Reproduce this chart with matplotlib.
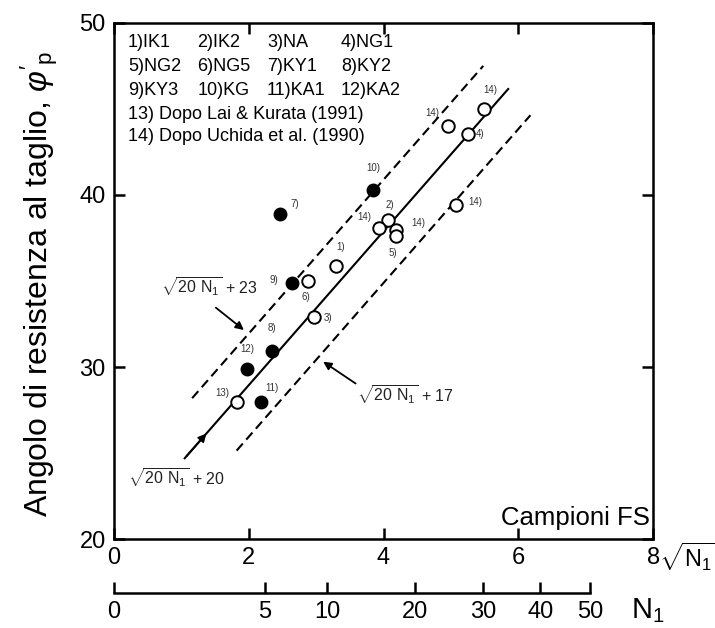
import numpy as np
import matplotlib
matplotlib.use('Agg')
import matplotlib.pyplot as plt

plt.rcParams['font.family'] = ['Liberation Sans', 'DejaVu Sans']
plt.rcParams['mathtext.fontset'] = 'custom'
plt.rcParams['mathtext.rm'] = 'Liberation Sans'
plt.rcParams['mathtext.it'] = 'Liberation Sans:italic'

# data: x = sqrt(N1), y = phi'_p
pt_x = [3.85, 2.46, 2.64, 2.88, 3.30, 2.97, 2.34, 4.07, 3.94, 4.19, 4.19,
        4.96, 5.49, 5.26, 5.07, 1.97, 1.83, 2.18]
pt_y = [40.3, 38.9, 34.9, 35.0, 35.9, 32.9, 30.95, 38.55, 38.1, 37.95, 37.6,
        44.0, 45.0, 43.55, 39.4, 29.9, 27.95, 27.95]
pt_filled = [1, 1, 1, 0, 0, 0, 1, 0, 0, 0, 0, 0, 0, 0, 0, 1, 0, 1]
pt_label = ['10)', '7)', '9)', '6)', '1)', '3)', '8)', '2)', '14)', '14)', '5)',
            '14)', '14)', '4)', '14)', '12)', '13)', '11)']
lab_x = [3.85, 2.69, 2.38, 2.85, 3.37, 3.17, 2.35, 4.09, 3.72, 4.52, 4.14,
         4.72, 5.59, 5.44, 5.36, 1.98, 1.61, 2.35]
lab_y = [41.55, 39.5, 35.06, 34.09, 37.0, 32.87, 32.25, 39.42, 38.7, 38.35, 36.6,
         44.75, 46.1, 43.55, 39.6, 31.05, 28.47, 28.76]

# fit lines: phi = sqrt(20 N1) + c
line_c = [20, 23, 17]
line_x0 = [1.05, 1.16, 1.82]
line_x1 = [5.85, 5.48, 6.18]

n1_ticks = [0, 5, 10, 20, 30, 40, 50]

legend_rows = [['1)IK1', '2)IK2', '3)NA', '4)NG1'],
               ['5)NG2', '6)NG5', '7)KY1', '8)KY2'],
               ['9)KY3', '10)KG', '11)KA1', '12)KA2']]
legend_cols = [0.21, 1.24, 2.27, 3.37]

fig = plt.figure(figsize=(7.15, 6.28), dpi=100)
ax = fig.add_axes([0.1594, 0.1417, 0.754, 0.8217])

for c, a, b in zip(line_c, line_x0, line_x1):
    xx = np.array([a, b])
    yy = np.sqrt(20) * xx + c
    if c == 20:
        ax.plot(xx, yy, color='black', lw=1.5)
    else:
        ax.plot(xx, yy, color='black', lw=1.5, linestyle=(0, (4.5, 2.5)))

for x, y, f in zip(pt_x, pt_y, pt_filled):
    if f:
        ax.plot(x, y, 'o', color='black', ms=9, zorder=3)
    else:
        ax.plot(x, y, 'o', mfc='white', mec='black', mew=1.4, ms=9, zorder=3)

for t, x, y in zip(pt_label, lab_x, lab_y):
    ax.text(x, y, t, fontsize=7, color='#333333', ha='center', va='center')

# legend block
for i, row in enumerate(legend_rows):
    for j, t in enumerate(row):
        ax.text(legend_cols[j], 48.85 - i * 1.38, t, fontsize=13, va='center')
ax.text(0.21, 44.7, '13) Dopo Lai & Kurata (1991)', fontsize=13, va='center')
ax.text(0.21, 43.4, '14) Dopo Uchida et al. (1990)', fontsize=13, va='center')

ax.text(7.95, 21.2, 'Campioni FS', fontsize=18.5, ha='right', va='center')

# formula annotations
ax.text(1.42, 34.65, r'$\sqrt{20\ \mathrm{N}_1}$ + 23', fontsize=11.5, ha='center', va='center', color='#222222')
ax.annotate('', xy=(1.96, 32.05), xytext=(1.48, 33.55),
            arrowprops=dict(arrowstyle='-|>', color='black', lw=1.3, mutation_scale=12))
ax.text(4.33, 28.4, r'$\sqrt{20\ \mathrm{N}_1}$ + 17', fontsize=11.5, ha='center', va='center', color='#222222')
ax.annotate('', xy=(3.07, 30.4), xytext=(3.62, 28.95),
            arrowprops=dict(arrowstyle='-|>', color='black', lw=1.3, mutation_scale=12))
ax.text(0.93, 23.6, r'$\sqrt{20\ \mathrm{N}_1}$ + 20', fontsize=11.5, ha='center', va='center', color='#222222')
ax.annotate('', xy=(1.40, 26.26), xytext=(1.05, 24.7),
            arrowprops=dict(arrowstyle='-|>', color='black', lw=1.3, mutation_scale=12))

ax.set_xlim(0, 8)
ax.set_ylim(20, 50)
ax.set_xticks([0, 2, 4, 6, 8])
ax.set_yticks([20, 30, 40, 50])
ax.tick_params(direction='in', length=8, width=1.8, labelsize=17, top=True, right=True, pad=6)
for s in ax.spines.values():
    s.set_linewidth(1.8)
ax.set_ylabel(r"Angolo di resistenza al taglio, $\varphi'_\mathrm{p}$", fontsize=23)
ax.yaxis.set_label_coords(-0.10, 0.495)

fig.text(0.921, 0.113, r'$\sqrt{\mathrm{N}_1}$', fontsize=17, va='center', ha='left')

# second scale in N1
ax2 = fig.add_axes([0.1594, 0.0557, 0.754, 0.0001])
ax2.set_xlim(0, 8)
ax2.patch.set_visible(False)
for k in ['top', 'left', 'right']:
    ax2.spines[k].set_visible(False)
ax2.spines['bottom'].set_bounds(0, np.sqrt(50))
ax2.spines['bottom'].set_linewidth(1.8)
ax2.set_yticks([])
ax2.set_xticks(np.sqrt(n1_ticks))
ax2.set_xticklabels([str(v) for v in n1_ticks])
ax2.tick_params(direction='in', length=8, width=1.8, labelsize=17, pad=6)
fig.text(0.882, 0.028, r'N$_1$', fontsize=21, va='center', ha='left')

fig.savefig('out.png', dpi=100)
